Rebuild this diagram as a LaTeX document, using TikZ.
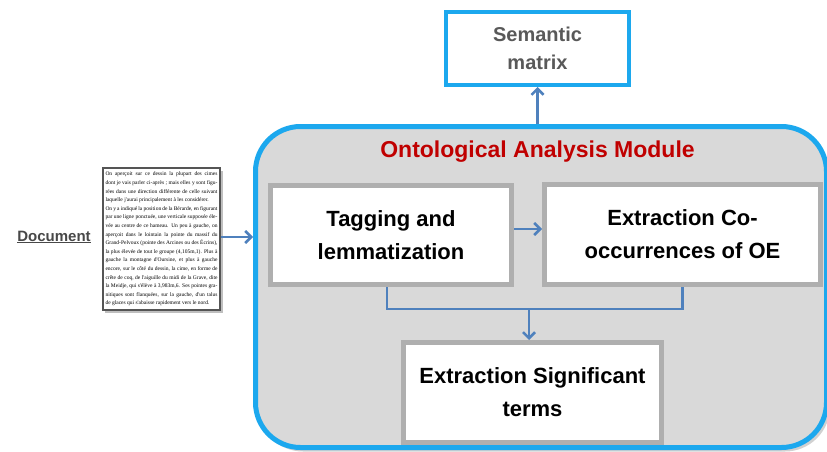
\documentclass[tikz,border=0pt]{standalone}
\usepackage{fontspec}
\setmainfont{Liberation Sans}
\newfontfamily\docserif{Liberation Serif}
\usetikzlibrary{arrows.meta,calc}
\definecolor{cyanb}{RGB}{28,168,238}
\definecolor{bggray}{RGB}{217,217,217}
\definecolor{framegray}{RGB}{175,175,175}
\definecolor{connb}{RGB}{79,129,189}
\definecolor{titlered}{RGB}{192,0,0}
\definecolor{semtext}{RGB}{89,89,89}
\definecolor{lbltext}{RGB}{72,72,72}
\begin{document}
\begin{tikzpicture}[x=1pt,y=-1pt,
  oambox/.style={draw=cyanb, line width=5pt, fill=bggray, rounded corners=45pt,
    minimum width=571pt, minimum height=321pt, inner sep=0pt},
  titletxt/.style={text=titlered, font=\bfseries\fontsize{23}{28}\selectfont, inner sep=0pt},
  gbox/.style={draw=framegray, line width=5pt, fill=white, align=center,
    font=\bfseries\fontsize{22}{33}\selectfont, inner sep=0pt},
  sembox/.style={draw=cyanb, line width=4pt, fill=white, align=center,
    text=semtext, font=\bfseries\fontsize{20}{28}\selectfont,
    minimum width=183pt, minimum height=73pt, inner sep=0pt},
  docbox/.style={draw={rgb,255:red,85;green,85;blue,85}, line width=2pt, fill=white,
    text width=112pt, align=justify, minimum width=117pt, minimum height=142pt,
    inner sep=1.5pt, font=\docserif\fontsize{5.5}{8.6}\selectfont},
  doclabel/.style={text=lbltext, font=\bfseries\fontsize{15}{18}\selectfont, inner sep=0pt},
  conn/.style={draw=connb, line width=2.5pt},
  arr/.style={-{Straight Barb[length=6pt,width=12pt,line width=2.5pt]}}
]
\useasboundingbox (0,0) rectangle (827,452);
\clip (0,0) rectangle (827,452);
\fill[white] (0,0) rectangle (827,452);

% shadow of the module box
\fill[black!18, rounded corners=45pt] (258,130) rectangle (830,451.5);
\node[oambox] (oam) at (541,287) {};
\node[titletxt] (title) at (537.5,152) {Ontological Analysis Module};

\node[gbox, minimum width=241pt, minimum height=99pt] (tag) at (391,235) {Tagging and\\lemmatization};
\node[gbox, minimum width=276pt, minimum height=100pt] (co) at (682.5,234.5) {Extraction Co-\\occurrences of OE};
\node[gbox, minimum width=258pt, minimum height=100pt] (sig) at (532.5,392.5) {Extraction Significant\\terms};

\node[sembox] (sem) at (537.5,48.5) {Semantic\\matrix};

\node[doclabel] (dl) at (54,237) {\underline{Document}};

\fill[black!25] (105,171) rectangle (223,313);
\node[docbox] (doc) at (161.5,239) {On aperçoit sur ce dessin la plupart des cimes\linebreak
dont je vais parler ci-après ; mais elles y sont figu-\linebreak
rées dans une direction différente de celle suivant\linebreak
laquelle j'aurai principalement à les considérer.\par
On y a indiqué la position de la Bérarde, en figurant\linebreak
par une ligne ponctuée, une verticale supposée éle-\linebreak
vée au centre de ce hameau. Un peu à gauche, on\linebreak
aperçoit dans le lointain la pointe du massif du\linebreak
Grand-Pelvoux (pointe des Arcines ou des Écrins),\linebreak
la plus élevée de tout le groupe (4,105m,1). Plus à\linebreak
gauche la montagne d'Oursine, et plus à gauche\linebreak
encore, sur le côté du dessin, la cime, en forme de\linebreak
crête de coq, de l'aiguille du midi de la Grave, dite\linebreak
la Meidje, qui s'élève à 3,983m,6. Ses pointes gra-\linebreak
nitiques sont flanquées, sur la gauche, d'un talus\linebreak
de glaces qui s'abaisse rapidement vers le nord.};

% connectors
\draw[conn,arr] (doc.east |- dl.center) -- (dl.center -| oam.west);
\draw[conn,arr] (sem.south |- oam.north) -- (sem.south);
\draw[conn,arr] ([yshift=6pt]tag.east) -- ([yshift=6pt]tag.east -| co.west);
\coordinate (j) at (529,309);
\draw[conn] ([xshift=-4pt]tag.south) |- (j) -| (co.south);
\draw[conn,arr] (j) -- (j |- sig.north);
\end{tikzpicture}
\end{document}
